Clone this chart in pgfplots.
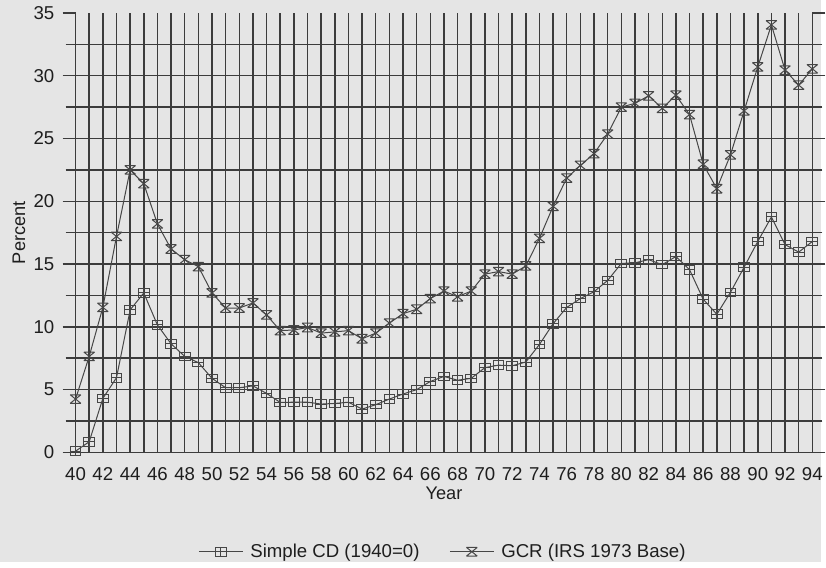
\documentclass[border=0pt]{standalone}
\usepackage{pgfplots}
\pgfplotsset{compat=1.18}
\usepackage{fontspec}
\setmainfont{Liberation Sans}
\definecolor{bgc}{RGB}{229,229,229}
\definecolor{gridc}{RGB}{60,60,60}
\definecolor{datac}{RGB}{70,70,70}
\definecolor{txtc}{RGB}{30,30,30}
\pgfdeclareplotmark{boxplus}{%
  \pgfpathrectangle{\pgfpoint{-\pgfplotmarksize}{-0.8\pgfplotmarksize}}{\pgfpoint{2\pgfplotmarksize}{1.6\pgfplotmarksize}}%
  \pgfpathmoveto{\pgfpoint{-\pgfplotmarksize}{0pt}}\pgfpathlineto{\pgfpoint{\pgfplotmarksize}{0pt}}%
  \pgfpathmoveto{\pgfpoint{0pt}{-0.8\pgfplotmarksize}}\pgfpathlineto{\pgfpoint{0pt}{0.8\pgfplotmarksize}}%
  \pgfusepathqstroke}
\pgfdeclareplotmark{hourglass}{%
  \pgfpathmoveto{\pgfpoint{-\pgfplotmarksize}{0.8\pgfplotmarksize}}\pgfpathlineto{\pgfpoint{\pgfplotmarksize}{0.8\pgfplotmarksize}}%
  \pgfpathmoveto{\pgfpoint{-\pgfplotmarksize}{-0.8\pgfplotmarksize}}\pgfpathlineto{\pgfpoint{\pgfplotmarksize}{-0.8\pgfplotmarksize}}%
  \pgfpathmoveto{\pgfpoint{-\pgfplotmarksize}{0.8\pgfplotmarksize}}\pgfpathlineto{\pgfpoint{\pgfplotmarksize}{-0.8\pgfplotmarksize}}%
  \pgfpathmoveto{\pgfpoint{-\pgfplotmarksize}{-0.8\pgfplotmarksize}}\pgfpathlineto{\pgfpoint{\pgfplotmarksize}{0.8\pgfplotmarksize}}%
  \pgfusepathqstroke}
\begin{document}
\fontsize{9}{11}\selectfont
\begin{tikzpicture}
\fill[bgc] (0,0) rectangle (413bp,282.5bp);
\begin{axis}[
  at={(38bp,55bp)}, anchor=south west,
  scale only axis, width=370.5bp, height=221bp,
  xmin=40, xmax=94, ymin=0, ymax=35,
  axis line style={draw=none},
  xtick={40,42,...,94}, minor xtick={41,43,...,93},
  ytick={0,5,...,30}, minor ytick={2.5,7.5,...,32.5},
  extra y ticks={35}, extra y tick style={grid=none},
  grid=both,
  major grid style={gridc, line width=0.75bp},
  minor grid style={gridc, line width=0.75bp},
  tick align=outside,
  major tick length=6.5bp, minor tick length=5bp,
  tick style={gridc, line width=0.75bp},
  xtick style={draw=none},
  /pgf/number format/assume math mode=true,
  ticklabel style={font=\fontsize{9.4}{11}\selectfont, text=txtc},
  xticklabel style={inner sep=1bp, yshift=0bp},
  yticklabel style={inner sep=1bp, xshift=-3bp},
  xlabel={Year}, ylabel={Percent},
  label style={font=\fontsize{9.2}{11}\selectfont, text=txtc},
  xlabel style={at={(axis description cs:0.5,-0.094)}, anchor=center},
  ylabel style={at={(axis description cs:-0.0769,0.5)}, anchor=center},
  legend style={at={(axis description cs:0.5,-0.226)}, anchor=center, draw=none, fill=none,
    font=\fontsize{9.4}{11}\selectfont, text=txtc,
    /tikz/every even column/.style={column sep=13bp},
    /tikz/every odd column/.style={column sep=1.5bp}},
  legend columns=2,
  legend image code/.code={\draw[mark repeat=2,mark phase=2] plot coordinates {(0cm,0cm)(0.39cm,0cm)(0.78cm,0cm)};},
  mark size=2.7bp,
]
\addplot[datac, line width=0.5bp, mark=boxplus, mark options={line width=0.5bp}] coordinates {
(40,0.1)(41,0.85)(42,4.3)(43,5.95)(44,11.35)(45,12.7)(46,10.15)(47,8.65)(48,7.65)(49,7.15)
(50,5.9)(51,5.15)(52,5.15)(53,5.3)(54,4.7)(55,3.98)(56,4.0)(57,4.0)(58,3.85)(59,3.9)
(60,4.0)(61,3.45)(62,3.8)(63,4.25)(64,4.65)(65,5.0)(66,5.65)(67,6.05)(68,5.75)(69,5.9)
(70,6.75)(71,6.95)(72,6.9)(73,7.2)(74,8.6)(75,10.25)(76,11.55)(77,12.25)(78,12.8)(79,13.7)
(80,15.05)(81,15.1)(82,15.35)(83,14.95)(84,15.6)(85,14.55)(86,12.2)(87,11.0)(88,12.75)(89,14.75)
(90,16.8)(91,18.75)(92,16.55)(93,15.95)(94,16.8)};
\addlegendentry{Simple CD (1940=0)}
\addplot[datac, line width=0.5bp, mark=hourglass, mark options={line width=0.5bp}] coordinates {
(40,4.25)(41,7.65)(42,11.55)(43,17.2)(44,22.5)(45,21.4)(46,18.2)(47,16.2)(48,15.35)(49,14.8)
(50,12.7)(51,11.5)(52,11.5)(53,11.9)(54,10.95)(55,9.7)(56,9.75)(57,9.95)(58,9.5)(59,9.6)
(60,9.7)(61,9.05)(62,9.5)(63,10.3)(64,11.05)(65,11.4)(66,12.25)(67,12.85)(68,12.4)(69,12.85)
(70,14.2)(71,14.4)(72,14.2)(73,14.85)(74,17.05)(75,19.6)(76,21.85)(77,22.85)(78,23.8)(79,25.35)
(80,27.5)(81,27.8)(82,28.4)(83,27.4)(84,28.45)(85,26.9)(86,22.95)(87,21.0)(88,23.7)(89,27.2)
(90,30.7)(91,34.05)(92,30.45)(93,29.25)(94,30.55)};
\addlegendentry{GCR (IRS 1973 Base)}
\end{axis}
\end{tikzpicture}
\end{document}
